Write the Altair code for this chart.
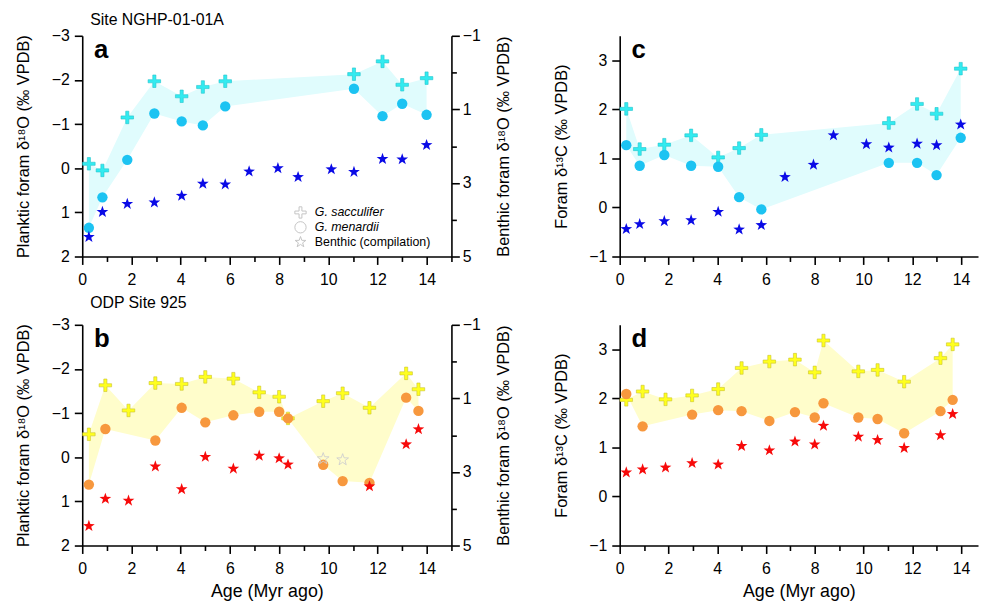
import altair as alt
import pandas as pd

# ---------------- data ----------------
# Site NGHP-01-01A (panels a and c)
ages_a = [0.27, 0.82, 1.83, 2.93, 4.04, 4.90, 5.81, 11.04, 12.20, 13.00, 13.99]
sac_d18O_a = [-0.10, 0.05, -1.15, -1.97, -1.63, -1.84, -1.97, -2.13, -2.42, -1.89, -2.04]
men_d18O_a = [1.35, 0.66, -0.19, -1.24, -1.06, -0.97, -1.40, -1.80, -1.18, -1.46, -1.21]
sac_d13C_a = [2.01, 1.19, 1.28, 1.47, 1.02, 1.21, 1.48, 1.72, 2.11, 1.91, 2.83]
men_d13C_a = [1.27, 0.85, 1.07, 0.85, 0.83, 0.21, -0.04, 0.91, 0.91, 0.66, 1.42]
benth_ages_a = [0.27, 0.82, 1.83, 2.93, 4.04, 4.90, 5.81, 6.78, 7.95, 8.77, 10.12, 11.04, 12.20, 13.00, 13.99]
benth_d18O_a = [4.47, 3.79, 3.57, 3.53, 3.35, 3.02, 3.04, 2.69, 2.60, 2.84, 2.63, 2.70, 2.35, 2.36, 1.97]
benth_d13C_a = [-0.44, -0.34, -0.28, -0.26, -0.09, -0.45, -0.36, 0.62, 0.87, 1.47, 1.29, 1.22, 1.30, 1.27, 1.69]

# ODP Site 925 (panels b and d)
ages_b = [0.27, 0.94, 1.88, 2.97, 4.04, 5.00, 6.14, 7.19, 8.00, 8.36, 9.79, 10.58, 11.67, 13.16, 13.66]
sac_d18O_b = [-0.52, -1.63, -1.06, -1.68, -1.66, -1.82, -1.78, -1.47, -1.37, -0.88, -1.27, -1.45, -1.12, -1.90, -1.54]
sac_d13C_b = [1.97, 2.14, 1.98, 2.06, 2.19, 2.62, 2.75, 2.79, 2.53, 3.18, 2.55, 2.58, 2.34, 2.82, 3.10]
men_ages_b = [0.27, 0.94, 2.97, 4.04, 5.00, 6.14, 7.19, 8.00, 8.36, 9.79, 10.58, 11.67, 13.16, 13.66]
men_d18O_b = [0.62, -0.64, -0.38, -1.12, -0.79, -0.95, -1.03, -1.03, -0.88, 0.17, 0.54, 0.58, -1.35, -1.05]
men_d13C_b = [2.09, 1.43, 1.67, 1.76, 1.74, 1.54, 1.72, 1.61, 1.90, 1.61, 1.58, 1.29, 1.74, 1.97]
benth_ages_b18 = [0.27, 0.94, 1.88, 2.97, 4.04, 5.00, 6.14, 7.19, 8.00, 8.36, 11.67, 13.16, 13.66]
benth_d18O_b = [4.47, 3.73, 3.78, 2.85, 3.47, 2.59, 2.91, 2.56, 2.63, 2.80, 3.39, 2.25, 1.84]
open_ages_b = [9.79, 10.58]
open_d18O_b = [2.64, 2.67]
benth_d13C_b = [0.49, 0.55, 0.59, 0.68, 0.65, 1.03, 0.94, 1.12, 1.06, 1.44, 1.22, 1.15, 0.99, 1.25, 1.68]

SERIES = ["G. sacculifer", "G. menardii", "Benthic (compilation)"]

# ---------------- styles ----------------
FONT = "Liberation Sans"
STAR = ("M0,-1L0.235,-0.324L0.951,-0.309L0.38,0.124L0.588,0.809L0,0.4"
        "L-0.588,0.809L-0.38,0.124L-0.951,-0.309L-0.235,-0.324Z")
CROSS = "M-0.25,-1H0.25V-0.25H1V0.25H0.25V1H-0.25V0.25H-1V-0.25H-0.25Z"

CYAN = dict(sac="#33EBF0", sac_edge="#22C4CC", men="#1CC3F2", ben="#0A0AE6", shade="#E0FCFD")
YELL = dict(sac="#FFFF1E", sac_edge="#C9C230", men="#F7983E", ben="#F70A0A", shade="#FFFDCB")


def tick_size(test):
    return {"condition": {"test": test, "value": 8}, "value": 5}


def x_axis(maxv, title):
    test = "datum.value % 2 == 0"
    return alt.Axis(values=list(range(0, maxv + 1)), format="d",
                    labelExpr=f"{test} ? datum.label : ''", tickSize=tick_size(test),
                    labelFlush=False, labelOverlap=False, labelPadding=7,
                    title=title, titleFontSize=18, titlePadding=6)


def y_axis(lo, hi, test, title, orient="left"):
    vals = [lo + 0.5 * i for i in range(int(round((hi - lo) / 0.5)) + 1)]
    if orient == "right":
        kw = dict(titleAngle=270, titleBaseline="top", titlePadding=15, labelPadding=3)
    else:
        kw = dict(titlePadding=20, labelPadding=5)
    return alt.Axis(values=vals, format="d", orient=orient,
                    labelExpr=f"{test} ? datum.label : ''", tickSize=tick_size(test),
                    labelFlush=False, labelOverlap=False, title=title, **kw)


def polygon(xs1, ys1, xs2, ys2):
    px = list(xs1) + list(reversed(xs2))
    py = list(ys1) + list(reversed(ys2))
    return pd.DataFrame({"age": px, "val": py, "idx": list(range(len(px)))})


def pts(xs, ys, name):
    return pd.DataFrame({"age": xs, "val": ys, "series": name})


def legend_layer():
    return alt.Chart(pd.DataFrame({"series": SERIES})).mark_point(
        filled=False, color="#c4c4c4", opacity=0, strokeWidth=1).encode(
        shape=alt.Shape("series:N",
                        scale=alt.Scale(domain=SERIES, range=[CROSS, "circle", STAR]),
                        legend=alt.Legend(
                            orient="none", legendX=214, legendY=172, title="",
                            labelFont=FONT, labelFontSize=12.5, labelColor="black",
                            labelFontStyle=alt.ExprRef(
                                expr="datum.label == 'Benthic (compilation)' ? 'normal' : 'italic'"),
                            symbolOpacity=1, symbolStrokeColor="#c4c4c4",
                            symbolStrokeWidth=1, symbolSize=130, rowPadding=-2,
                            labelOffset=8, padding=0)))


def letter_layer(txt):
    return alt.Chart(pd.DataFrame({"t": [txt]})).mark_text(
        font=FONT, fontSize=26, fontWeight="bold", align="left", baseline="alphabetic",
        color="black").encode(text="t:N", x=alt.value(12), y=alt.value(22))


def build(xmax, width, col, sac_x, sac_y, men_x, men_y, ben_x, ben_y, ydom, yaxis,
          letter, xtitle, legend=False, ben_scale=None, ben_axis=None, open_x=None, open_y=None):
    X = alt.X("age:Q", scale=alt.Scale(domain=[0, xmax], nice=False, zero=False),
              axis=x_axis(14 if xmax < 15 else 15, xtitle))
    rev = ben_scale is not None
    Y = alt.Y("val:Q", scale=alt.Scale(domain=ydom, nice=False, zero=False, reverse=rev),
              axis=yaxis)
    shade = alt.Chart(polygon(sac_x, sac_y, men_x, men_y)).mark_line(
        fill=col["shade"], strokeOpacity=0, strokeWidth=0).encode(
        x=X, y=Y, order=alt.Order("idx:Q"))
    sac = alt.Chart(pts(sac_x, sac_y, SERIES[0])).mark_point(
        filled=True, fill=col["sac"], stroke=col["sac_edge"], strokeWidth=0.6,
        size=160, opacity=1, shape=CROSS).encode(x=X, y=Y)
    men = alt.Chart(pts(men_x, men_y, SERIES[1])).mark_point(
        filled=True, fill=col["men"], size=110, opacity=1, strokeWidth=0,
        shape="circle").encode(x=X, y=Y)
    extra = [legend_layer()] if legend else []
    if ben_scale is None:
        ben = alt.Chart(pts(ben_x, ben_y, SERIES[2])).mark_point(
            filled=True, fill=col["ben"], size=155, opacity=1, strokeWidth=0,
            shape=STAR).encode(x=X, y=Y)
        return alt.layer(shade, sac, men, ben, letter_layer(letter), *extra).properties(
            width=width, height=223)
    YB = alt.Y("val:Q", scale=ben_scale, axis=ben_axis)
    ben = alt.Chart(pts(ben_x, ben_y, SERIES[2])).mark_point(
        filled=True, fill=col["ben"], size=155, opacity=1, strokeWidth=0,
        shape=STAR).encode(x=X, y=YB)
    ben_layers = [ben]
    if open_x:
        ben_layers.append(alt.Chart(pts(open_x, open_y, SERIES[2])).mark_point(
            filled=False, stroke="#cfcfcf", strokeWidth=0.9, size=155, opacity=1,
            shape=STAR).encode(x=X, y=YB))
    left = alt.layer(shade, sac, men, letter_layer(letter), *extra)
    right = alt.layer(*ben_layers)
    return alt.layer(left, right).resolve_scale(y="independent").properties(
        width=width, height=223)


O18_LEFT = "Planktic foram δ¹⁸O (‰ VPDB)"
O18_RIGHT = "Benthic foram δ¹⁸O (‰ VPDB)"
C13 = "Foram δ¹³C (‰ VPDB)"
INT = "datum.value % 1 == 0"
ODD = "(datum.value + 1) % 2 == 0"


def ben_scale():
    return alt.Scale(domain=[-1, 5], nice=False, zero=False, reverse=True)


pa = build(15, 373, CYAN, ages_a, sac_d18O_a, ages_a, men_d18O_a, benth_ages_a, benth_d18O_a,
           [-3, 2], y_axis(-3, 2, INT, O18_LEFT), "a", "", legend=True,
           ben_scale=ben_scale(), ben_axis=y_axis(-1, 5, ODD, O18_RIGHT, "right")).properties(
    title=alt.Title("Site NGHP-01-01A", anchor="start", frame="group", dx=8, offset=0,
                    font=FONT, fontSize=16, fontWeight="normal", color="black"))

pb = build(15, 373, YELL, ages_b, sac_d18O_b, men_ages_b, men_d18O_b, benth_ages_b18, benth_d18O_b,
           [-3, 2], y_axis(-3, 2, INT, O18_LEFT), "b", "Age (Myr ago)",
           ben_scale=ben_scale(), ben_axis=y_axis(-1, 5, ODD, O18_RIGHT, "right"),
           open_x=open_ages_b, open_y=open_d18O_b).properties(
    title=alt.Title("ODP Site 925", anchor="start", frame="group", dx=8, offset=6,
                    font=FONT, fontSize=16, fontWeight="normal", color="black"))

pc = build(14.7, 362, CYAN, ages_a, sac_d13C_a, ages_a, men_d13C_a, benth_ages_a, benth_d13C_a,
           [-1, 3.5], y_axis(-1, 3.5, INT, C13), "c", "")

pd_ = build(14.7, 362, YELL, ages_b, sac_d13C_b, men_ages_b, men_d13C_b, ages_b, benth_d13C_b,
            [-1, 3.5], y_axis(-1, 3.5, INT, C13), "d", "Age (Myr ago)")

top = alt.hconcat(pa, pc, spacing=40)
bottom = alt.hconcat(pb, pd_, spacing=40)

chart = alt.vconcat(top, bottom, spacing=6).properties(
    padding={"left": 7, "top": 0, "right": 0, "bottom": 0}
).configure_axis(
    labelFont=FONT, titleFont=FONT, labelFontSize=16, titleFontSize=16.5,
    titleFontWeight="normal", labelColor="black", titleColor="black",
    domainColor="black", domainWidth=1.6, tickColor="black", tickWidth=1.6, grid=False
).configure_view(stroke="transparent")

chart.save("out.html", embed_options={"renderer": "svg", "actions": False})
